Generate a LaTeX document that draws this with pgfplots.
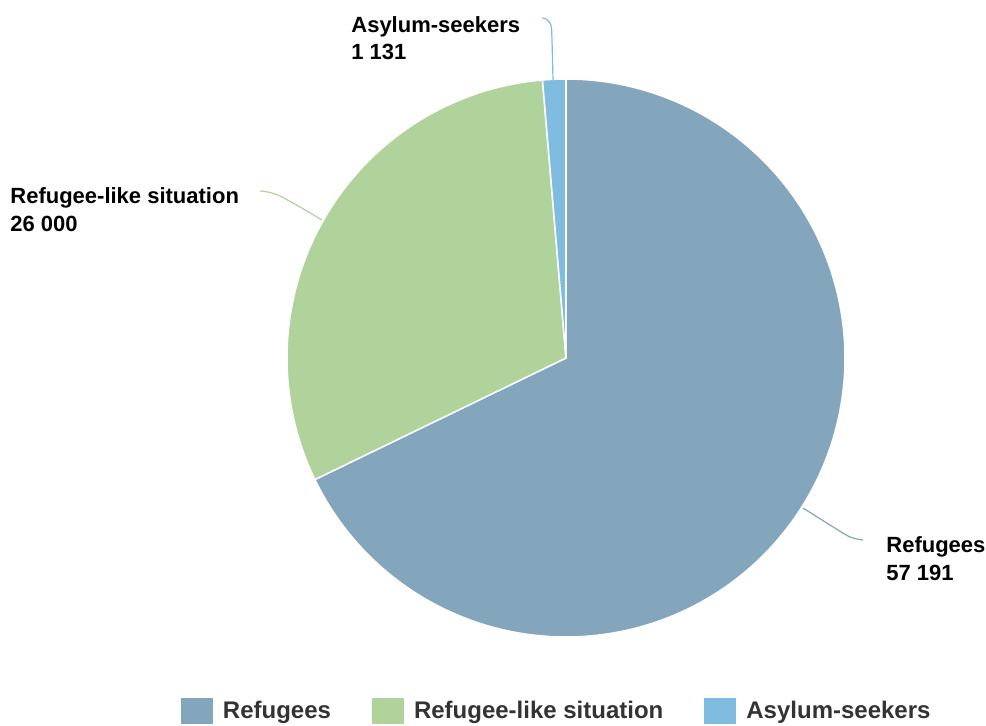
\documentclass[border=0pt]{standalone}
\usepackage{fontspec}
\setmainfont{Liberation Sans}
\usepackage{pgfplots}
\pgfplotsset{compat=1.18}
\definecolor{cRef}{RGB}{132,166,188}
\definecolor{cLike}{RGB}{176,210,155}
\definecolor{cAsy}{RGB}{128,188,224}
\definecolor{cLeg}{RGB}{51,51,51}
\begin{document}
\begin{tikzpicture}
\useasboundingbox (0,0) rectangle (493bp,363bp);
% data
\def\vRef{57191}
\def\vLike{26000}
\def\vAsy{1131}
\edef\tot{\fpeval{\vRef+\vLike+\vAsy}}
\edef\aA{\fpeval{round(90-360*\vRef/\tot,4)}}
\edef\aB{\fpeval{round(\aA-360*\vLike/\tot,4)}}
\begin{axis}[
  anchor=south west, at={(0,0)},
  x=0.5bp, y=0.5bp,
  xmin=0, xmax=986, ymin=0, ymax=726,
  hide axis, clip=false,
  legend columns=3,
  legend style={draw=none, fill=none, at={(axis cs:181,15)}, anchor=west,
    inner sep=0pt, outer sep=0pt,
    font=\fontsize{12bp}{14bp}\selectfont\bfseries\color{cLeg},
    /tikz/every even column/.append style={column sep=20.5bp},
    nodes={inner sep=0pt, outer sep=0pt}},
  legend image code/.code={\fill[#1, draw=none] (0bp,-6.25bp) rectangle (16bp,6.25bp);},
  legend cell align=left,
]
\addplot[fill=cRef, draw=white, line width=0.75bp, domain=\aA:90, samples=240, variable=\t]
  ({566+279*cos(\t)}, {368+279*sin(\t)}) -- (axis cs:566,368) -- cycle;
\addlegendentry{\hspace{5bp}Refugees}
\addplot[fill=cLike, draw=white, line width=0.75bp, domain=\aB:\aA, samples=120, variable=\t]
  ({566+279*cos(\t)}, {368+279*sin(\t)}) -- (axis cs:566,368) -- cycle;
\addlegendentry{\hspace{5bp}Refugee-like situation}
\addplot[fill=cAsy, draw=white, line width=0.75bp, domain=-270:\aB, samples=10, variable=\t]
  ({566+279*cos(\t)}, {368+279*sin(\t)}) -- (axis cs:566,368) -- cycle;
\addlegendentry{\hspace{5bp}Asylum-seekers}
% leader lines
\addplot[forget plot, smooth, draw=cAsy, line width=0.6bp] coordinates {(553,646) (552,686) (551,701) (546,707) (542,708)};
\addplot[forget plot, smooth, draw=cLike, line width=0.6bp] coordinates {(322,506) (300,519) (280,530) (268,534) (260,535)};
\addplot[forget plot, smooth, draw=cRef, line width=0.6bp] coordinates {(803,218) (830,201) (850,189) (863,186)};
% labels
\begin{scope}[every node/.style={anchor=base west, inner sep=0pt, font=\fontsize{11bp}{13bp}\selectfont\bfseries}]
\node at (axis cs:351,694) {Asylum-seekers};
\node at (axis cs:351,666.5) {1 131};
\node at (axis cs:10,522.5) {Refugee-like situation};
\node at (axis cs:10,494.5) {26 000};
\node at (axis cs:886,173.5) {Refugees};
\node at (axis cs:886,145.5) {57 191};
\end{scope}
\end{axis}
\end{tikzpicture}
\end{document}
